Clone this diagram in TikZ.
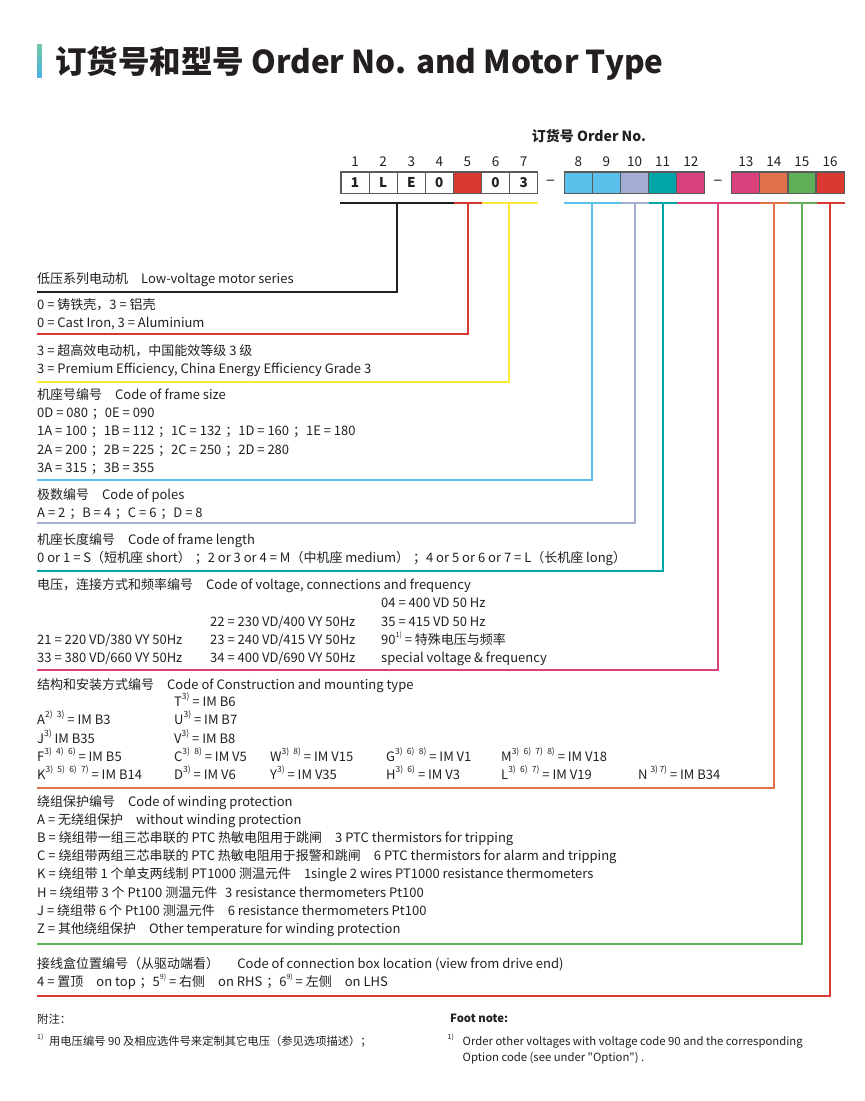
\documentclass[tikz,border=0pt]{standalone}
\usepackage{fontspec}
\setmainfont{Noto Sans CJK SC}
\newfontfamily\plainfnt{Noto Sans CJK SC}
\definecolor{textc}{HTML}{231F20}
\definecolor{cblack}{HTML}{231F20}
\definecolor{cred}{HTML}{D7382F}
\definecolor{cyellow}{HTML}{FAE83C}
\definecolor{cblue}{HTML}{5CC0EC}
\definecolor{clav}{HTML}{A4AED5}
\definecolor{cteal}{HTML}{00A5A8}
\definecolor{cmag}{HTML}{DA407B}
\definecolor{corange}{HTML}{E2704A}
\definecolor{cgreen}{HTML}{5EAF57}
\definecolor{credb}{HTML}{D83A31}
\definecolor{boxgray}{HTML}{5A5A5A}
\definecolor{titleg}{HTML}{72C8A0}
\definecolor{titleb}{HTML}{4BB3E3}
\newcommand\supr[1]{\raisebox{0.48em}{\fontsize{8.5}{8.5}\selectfont #1}}
\newcommand\fsup[1]{\raisebox{0.5em}{\fontsize{7}{7}\selectfont #1}}
\newcommand\sg{\hspace{0.5em}}
\newcommand\semi{\hspace{0.3em}；}
\begin{document}
\begin{tikzpicture}[x=1pt,y=-1pt,
  txt/.style={anchor=base west,inner sep=0pt,font=\fontsize{13}{15}\selectfont,text=textc},
  small/.style={anchor=base west,inner sep=0pt,font=\fontsize{11.3}{13}\selectfont,text=textc},
  numlab/.style={anchor=base,inner sep=0pt,font=\fontsize{13.5}{15}\selectfont,text=textc},
  digitbox/.style={draw=boxgray,line width=1.2pt,minimum width=28.1pt,minimum height=21.3pt,inner sep=0pt,font=\bfseries\fontsize{13.5}{15}\selectfont,text=textc},
  dashlab/.style={inner sep=0pt,font=\fontsize{17}{17}\selectfont,text=textc},
  bar/.style={line width=2.2pt},
  conn/.style={line width=2pt,line join=miter}]
\useasboundingbox (0,0) rectangle (865,1101);
% title
\shade[top color=titleg,bottom color=titleb] (37,44) rectangle (41.5,77);
\node[anchor=base west,inner sep=0pt,font=\bfseries\fontsize{31.5}{34}\selectfont,text=textc] (title) at (55,73.5) {订货号和型号 Order No. and Motor Type};
\node[anchor=base,inner sep=0pt,font=\bfseries\fontsize{14}{16}\selectfont,text=textc] (ordno) at (589,141.7) {订货号 Order No.};
% boxes
\foreach \i/\x/\c/\t in {1/341/white/1,2/369.1/white/L,3/397.2/white/E,4/425.3/white/0,5/453.4/cred/,6/481.5/white/0,7/509.6/white/3,
  8/564.3/cblue/,9/592.4/cblue/,10/620.5/clav/,11/648.6/cteal/,12/676.7/cmag/,
  13/731.7/cmag/,14/759.8/corange/,15/787.9/cgreen/,16/816/credb/}{
  \node[digitbox,fill=\c] (b\i) at (\x+14.05,182.6) {\t};
  \node[numlab] (n\i) at (\x+14.05,166.5) {\i};
}
\node[dashlab] (d1) at (550.5,183) {–};
\node[dashlab] (d2) at (718,183) {–};
% bars
\path (b1.west|-0,203.3) coordinate (p1) (b4.east|-0,203.3) coordinate (p2)
      (b5.east|-0,203.3) coordinate (p3) (b7.east|-0,203.3) coordinate (p4)
      (b8.west|-0,203.3) coordinate (q1) (b9.east|-0,203.3) coordinate (q2)
      (b10.east|-0,203.3) coordinate (q3) (b11.east|-0,203.3) coordinate (q4)
      (b13.east|-0,203.3) coordinate (q5) (b14.east|-0,203.3) coordinate (q6)
      (b15.east|-0,203.3) coordinate (q7) (b16.east|-0,203.3) coordinate (q8);
\draw[bar,cblack] (p1) -- (p2);
\draw[bar,cred] (p2) -- (p3);
\draw[bar,cyellow] (p3) -- (p4);
\draw[bar,cblue] (q1) -- (q2);
\draw[bar,clav] (q2) -- (q3);
\draw[bar,cteal] (q3) -- (q4);
\draw[bar,cmag] (q4) -- (q5);
\draw[bar,corange] (q5) -- (q6);
\draw[bar,cgreen] (q6) -- (q7);
\draw[bar,credb] (q7) -- (q8);
% drop points and section ends
\foreach \n/\x/\y in {1/397/292,2/467.5/334,3/508.5/381.7,4/592.4/480,5/634.5/523,6/662.6/571,7/718.2/670,8/773.8/788,9/801.9/944,10/830/996}{
  \coordinate (v\n) at (\x,203.3);
  \coordinate (e\n) at (37,\y);
}
\draw[conn,cblack] (v1) |- (e1);
\draw[conn,cred] (v2) |- (e2);
\draw[conn,cyellow] (v3) |- (e3);
\draw[conn,cblue] (v4) |- (e4);
\draw[conn,clav] (v5) |- (e5);
\draw[conn,cteal] (v6) |- (e6);
\draw[conn,cmag] (v7) |- (e7);
\draw[conn,corange] (v8) |- (e8);
\draw[conn,cgreen] (v9) |- (e9);
\draw[conn,credb] (v10) |- (e10);
% section 1
\node[txt] (s1a) at (37,283) {低压系列电动机\hspace{1em}Low-voltage motor series};
% section 2
\node[txt] (s2a) at (37,309) {0 = 铸铁壳，3 = 铝壳};
\node[txt] (s2b) at (37,327.7) {0 = Cast Iron, 3 = Aluminium};
% section 3
\node[txt] (s3a) at (37,355) {3 = 超高效电动机，中国能效等级 3 级};
\node[txt] (s3b) at (37,373.3) {3 = Premium Efficiency, China Energy Efficiency Grade 3};
% section 4
\node[txt] (s4a) at (37,399) {机座号编号\hspace{1em}Code of frame size};
\node[txt] (s4b) at (37,417) {0D = 080\semi 0E = 090};
\node[txt] (s4c) at (37,435.5) {1A = 100\semi 1B = 112\semi 1C = 132\semi 1D = 160\semi 1E = 180};
\node[txt] (s4d) at (37,454) {2A = 200\semi 2B = 225\semi 2C = 250\semi 2D = 280};
\node[txt] (s4e) at (37,472.5) {3A = 315\semi 3B = 355};
% section 5
\node[txt] (s5a) at (37,499) {极数编号\hspace{1em}Code of poles};
\node[txt] (s5b) at (37,517.5) {A = 2\semi B = 4\semi C = 6\semi D = 8};
% section 6
\node[txt] (s6a) at (37,544) {机座长度编号\hspace{1em}Code of frame length};
\node[txt] (s6b) at (37,562.5) {0 or 1 = S（短机座 short）\semi 2 or 3 or 4 = M（中机座 medium）\semi 4 or 5 or 6 or 7 = L（长机座 long）};
% section 7
\node[txt] (s7a) at (37,589) {电压，连接方式和频率编号\hspace{1em}Code of voltage, connections and frequency};
\node[txt] (s7b) at (381,607.5) {04 = 400 VD 50 Hz};
\node[txt] (s7c) at (210,626) {22 = 230 VD/400 VY 50Hz};
\node[txt] (s7d) at (381,626) {35 = 415 VD 50 Hz};
\node[txt] (s7e) at (37,644) {21 = 220 VD/380 VY 50Hz};
\node[txt] (s7f) at (210,644) {23 = 240 VD/415 VY 50Hz};
\node[txt] (s7g) at (381,644) {90\fsup{1)} = 特殊电压与频率};
\node[txt] (s7h) at (37,662) {33 = 380 VD/660 VY 50Hz};
\node[txt] (s7i) at (210,662) {34 = 400 VD/690 VY 50Hz};
\node[txt] (s7j) at (381,662) {special voltage \& frequency};
% section 8
\node[txt] (s8a) at (37,689) {结构和安装方式编号\hspace{1em}Code of Construction and mounting type};
\node[txt] (s8b) at (174,706) {T\supr{3)} = IM B6};
\node[txt] (s8c) at (37,724) {A\supr{2)\sg 3)} = IM B3};
\node[txt] (s8d) at (174,724) {U\supr{3)} = IM B7};
\node[txt] (s8e) at (37,743) {J\supr{3)} IM B35};
\node[txt] (s8f) at (174,743) {V\supr{3)} = IM B8};
\node[txt] (s8g) at (37,761) {F\supr{3)\sg 4)\sg 6)} = IM B5};
\node[txt] (s8h) at (174,761) {C\supr{3)\sg 8)} = IM V5};
\node[txt] (s8i) at (270,761) {W\supr{3)\sg 8)} = IM V15};
\node[txt] (s8j) at (386,761) {G\supr{3)\sg 6)\sg 8)} = IM V1};
\node[txt] (s8k) at (501,761) {M\supr{3)\sg 6)\sg 7)\sg 8)} = IM V18};
\node[txt] (s8l) at (37,779) {K\supr{3)\sg 5)\sg 6)\sg 7)} = IM B14};
\node[txt] (s8m) at (174,779) {D\supr{3)} = IM V6};
\node[txt] (s8n) at (270,779) {Y\supr{3)} = IM V35};
\node[txt] (s8o) at (386,779) {H\supr{3)\sg 6)} = IM V3};
\node[txt] (s8p) at (501,779) {L\supr{3)\sg 6)\sg 7)} = IM V19};
\node[txt] (s8q) at (638,779) {N \supr{3)\,7)} = IM B34};
% section 9
\node[txt] (s9a) at (37,806) {绕组保护编号\hspace{1em}Code of winding protection};
\node[txt] (s9b) at (37,824) {A = 无绕组保护\hspace{1em}without winding protection};
\node[txt] (s9c) at (37,842.5) {B = 绕组带一组三芯串联的 PTC 热敏电阻用于跳闸\hspace{1em}3 PTC thermistors for tripping};
\node[txt] (s9d) at (37,860.5) {C = 绕组带两组三芯串联的 PTC 热敏电阻用于报警和跳闸\hspace{1em}6 PTC thermistors for alarm and tripping};
\node[txt] (s9e) at (37,878.5) {K = 绕组带 1 个单支两线制 PT1000 测温元件\hspace{1em}1single 2 wires PT1000 resistance thermometers};
\node[txt] (s9f) at (37,897) {H = 绕组带 3 个 Pt100 测温元件\hspace{0.6em}3 resistance thermometers Pt100};
\node[txt] (s9g) at (37,915) {J = 绕组带 6 个 Pt100 测温元件\hspace{1em}6 resistance thermometers Pt100};
\node[txt] (s9h) at (37,933) {Z = 其他绕组保护\hspace{1em}Other temperature for winding protection};
% section 10
\node[txt] (s10a) at (37,968) {接线盒位置编号（从驱动端看）\hspace{1.4em}Code of connection box location (view from drive end)};
\node[txt] (s10b) at (37,986) {4 = 置顶\hspace{1em}on top\semi 5\fsup{9)} = 右侧\hspace{1em}on RHS\semi 6\fsup{9)} = 左侧\hspace{1em}on LHS};
% footnotes
\node[small] (f1) at (37,1023.5) {附注：};
\node[small] (f2) at (37,1045) {\fsup{1)}\hspace{0.5em}用电压编号 90 及相应选件号来定制其它电压（参见选项描述）；};
\node[small,font=\bfseries\fontsize{11.3}{13}\selectfont] (f3) at (450,1022) {Foot note:};
\node[small] (f4) at (447.5,1045) {\fsup{1)}};
\node[small] (f5) at (462.5,1045) {Order other voltages with voltage code 90 and the corresponding};
\node[small] (f6) at (462.5,1061) {\plainfnt Option code (see under "Option") .};
\end{tikzpicture}
\end{document}
